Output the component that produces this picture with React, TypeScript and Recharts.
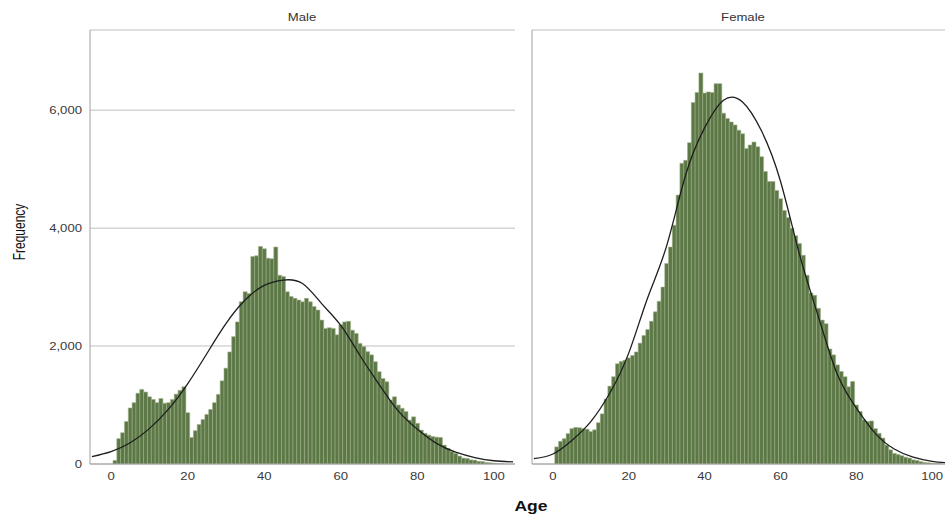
import { ComposedChart, Bar, Line, XAxis, YAxis, CartesianGrid } from "recharts";

const FONT = '"Liberation Sans", Arial, sans-serif';
const STRETCH = 1.25;

const xTicks = [0, 20, 40, 60, 80, 100];
const yTicks = [0, 2000, 4000, 6000];
const firstBin = -5;
const lastBin = 105;

// counts per age (index = age in years)
const maleCounts = [
  0, 60, 430, 530, 720, 950, 1040, 1200, 1265, 1220, 1140,
  1095, 1040, 1110, 1030, 1040, 1095, 1185, 1250, 1310, 870,
  450, 565, 670, 755, 840, 925, 1040, 1180, 1410, 1625,
  1900, 2160, 2410, 2750, 2920, 2890, 3520, 3530, 3690, 3650,
  3490, 3480, 3680, 3200, 3180, 2920, 2840, 2810, 2780, 2750,
  2810, 2750, 2670, 2610, 2440, 2300, 2310, 2300, 2190, 2360,
  2410, 2420, 2270, 2215, 2045, 1990, 1905, 1850, 1735, 1565,
  1450, 1395, 1085, 1140, 1000, 945, 890, 745, 800, 690,
  575, 520, 490, 465, 455, 450, 320, 265, 210, 180,
  135, 100, 95, 70, 65, 45, 40, 25, 20, 12, 6, 4,
];

const femaleCounts = [
  0, 290, 385, 430, 515, 600, 620, 615, 600, 590, 550,
  580, 700, 850, 1100, 1320, 1480, 1700, 1740, 1760, 1800,
  1840, 1900, 2050, 2180, 2280, 2420, 2580, 2760, 3000, 3400,
  3680, 4050, 4560, 5100, 5150, 5450, 6130, 6300, 6630, 6290,
  6310, 6300, 6450, 6450, 5950, 5860, 5800, 5750, 5660, 5600,
  5350, 5410, 5460, 5380, 5210, 4960, 4790, 4790, 4640, 4500,
  4300, 4180, 4000, 3870, 3740, 3540, 3200, 2900, 2860, 2640,
  2440, 2380, 1950, 1850, 1680, 1570, 1480, 1310, 1400, 1000,
  890, 750, 720, 730, 600, 520, 440, 320, 240, 180,
  160, 140, 115, 100, 70, 60, 40, 25, 20, 12, 6, 4,
];

// normal curve, every 5 years
const curveAges = [-5, 0, 5, 10, 15, 20, 25, 30, 35, 40, 45, 50, 55, 60, 65, 70, 75, 80, 85, 90, 95, 100, 105];
const maleCurve = [125, 210, 360, 600, 930, 1360, 1870, 2380, 2780, 3030, 3120, 3060, 2720, 2350, 1840, 1350, 900, 590, 350, 200, 110, 55, 35];
const femaleCurve = [90, 170, 400, 720, 1200, 1880, 2820, 3700, 4900, 5700, 6170, 6140, 5650, 4800, 3560, 2500, 1520, 950, 520, 255, 115, 45, 15];

function buildRows(counts: number[], curve: number[]) {
  const rows: { age: number; count: number; curve: number | null }[] = [];
  for (let age = firstBin; age <= lastBin; age++) {
    const ci = curveAges.indexOf(age);
    rows.push({ age, count: counts[age] ?? 0, curve: ci >= 0 ? curve[ci] : null });
  }
  return rows;
}

const maleRows = buildRows(maleCounts, maleCurve);
const femaleRows = buildRows(femaleCounts, femaleCurve);

const XTick = (props: any) => {
  const { x, y, payload } = props;
  return (
    <text
      transform={`translate(${x},${y + 8}) scale(${STRETCH},1)`}
      textAnchor="middle"
      fontSize={10.5}
      fill="#3a3a3a"
      fontFamily={FONT}
    >
      {payload.value}
    </text>
  );
};

const YTick = (props: any) => {
  const { x, y, payload } = props;
  return (
    <text
      transform={`translate(${x},${y + 3.7}) scale(${STRETCH},1)`}
      textAnchor="end"
      fontSize={10.5}
      fill="#3a3a3a"
      fontFamily={FONT}
    >
      {payload.value.toLocaleString("en-US")}
    </text>
  );
};

function Panel({ data, width, yWidth, showYTicks }: any) {
  return (
    <ComposedChart
      width={width}
      height={490}
      data={data}
      margin={{ top: 30, right: 0, bottom: 0, left: 0 }}
      barCategoryGap={0}
    >
      <CartesianGrid vertical={false} stroke="#d4d4d4" strokeWidth={1.5} />
      <XAxis
        dataKey="age"
        type="category"
        ticks={xTicks}
        interval={0}
        height={26}
        tickLine={false}
        axisLine={{ stroke: "#a0a0a0" }}
        tick={<XTick />}
      />
      <YAxis
        domain={[0, 7360]}
        ticks={yTicks}
        width={yWidth}
        tickLine={false}
        axisLine={{ stroke: "#a0a0a0" }}
        tick={showYTicks ? <YTick /> : false}
        allowDataOverflow
      />
      <Bar dataKey="count" fill="#5c7846" stroke="#a2b38d" strokeWidth={0.6} isAnimationActive={false} />
      <Line
        dataKey="curve"
        type="natural"
        connectNulls
        dot={false}
        stroke="#1e1e1e"
        strokeWidth={1.3}
        isAnimationActive={false}
      />
    </ComposedChart>
  );
}

const titleStyle: any = {
  position: "absolute",
  top: 11,
  fontFamily: FONT,
  fontSize: 10.5,
  color: "#333",
  transform: `translateX(-50%) scaleX(${STRETCH})`,
  whiteSpace: "nowrap",
};

export default function App() {
  return (
    <div
      style={{
        position: "fixed",
        left: 0,
        top: 0,
        width: 945,
        height: 516,
        overflow: "hidden",
        background: "#fff",
      }}
    >
      <div style={{ position: "absolute", left: 0, top: 0 }}>
        <Panel data={maleRows} width={515} yWidth={90} showYTicks />
      </div>
      <div style={{ position: "absolute", left: 520, top: 0 }}>
        <Panel data={femaleRows} width={433} yWidth={12} showYTicks={false} />
      </div>
      <div style={{ ...titleStyle, left: 302 }}>Male</div>
      <div style={{ ...titleStyle, left: 743 }}>Female</div>
      <div
        style={{
          position: "absolute",
          left: 19,
          top: 232,
          fontFamily: FONT,
          fontSize: 12,
          color: "#111",
          whiteSpace: "nowrap",
          transform: "translate(-50%,-50%) rotate(-90deg) scaleY(1.4)",
        }}
      >
        Frequency
      </div>
      <div
        style={{
          position: "absolute",
          left: 531,
          top: 498,
          fontFamily: FONT,
          fontSize: 14,
          fontWeight: "bold",
          color: "#111",
          whiteSpace: "nowrap",
          transform: `translateX(-50%) scaleX(${STRETCH})`,
        }}
      >
        Age
      </div>
    </div>
  );
}
